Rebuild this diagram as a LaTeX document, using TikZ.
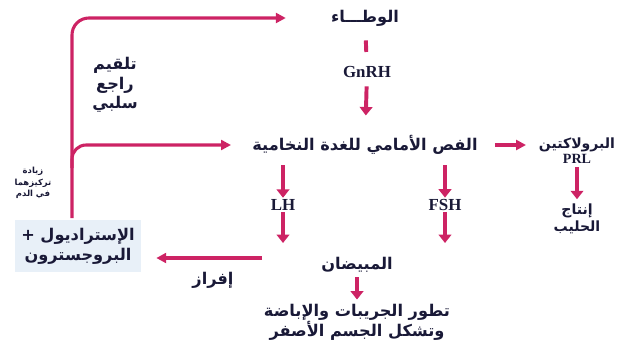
\documentclass[tikz,border=0pt]{standalone}
\usepackage{fontspec}
\usepackage{tikz}
\usetikzlibrary{arrows.meta}
\TeXXeTstate=1
\newfontfamily\arabicfont[Script=Arabic]{DejaVu Sans}
\newfontfamily\latinfont{Liberation Serif}
\definecolor{arrowpink}{RGB}{205,35,100}
\definecolor{textnavy}{RGB}{25,25,55}
\definecolor{boxblue}{RGB}{232,240,248}

\begin{document}
\begin{tikzpicture}[x=0.025cm, y=-0.025cm,
    artxt/.style={text=textnavy, font=\arabicfont\bfseries\fontsize{11.5}{14}\selectfont, align=center, inner sep=1pt},
    sidetxt/.style={artxt, font=\arabicfont\bfseries\fontsize{10}{12.5}\selectfont},
    smalltxt/.style={text=textnavy, font=\arabicfont\bfseries\fontsize{6}{8}\selectfont, align=center, inner sep=1pt},
    hormone/.style={text=textnavy, font=\latinfont\bfseries\fontsize{12}{14}\selectfont, inner sep=1pt},
    fatarrow/.style={draw=arrowpink, line width=2.8pt, -{Triangle[width=9pt, length=6pt]}, arrowpink},
    link/.style={draw=arrowpink, line width=2.2pt, -{Triangle[width=7pt, length=7pt]}, arrowpink}]
        \useasboundingbox (0,0) rectangle (636,360);

        % Hypothalamus and GnRH
        \node[artxt] (hypo) at (365, 18) {\beginR الوطـــاء\endR};
        \node[hormone] (gnrh) at (367, 72) {GnRH};
        \node[artxt] (pit) at (365, 145) {\beginR الفص الأمامي للغدة النخامية\endR};

        % Prolactin branch
        \node[sidetxt] (prl) at (577, 151) {\beginR البرولاكتين\endR\\[-2pt]{\latinfont\bfseries PRL}};
        \node[sidetxt] (milk) at (577, 219) {\beginR إنتاج\endR\\ \beginR الحليب\endR};

        % LH and FSH
        \node[hormone] (lh) at (283, 205) {LH};
        \node[hormone] (fsh) at (445, 205) {FSH};
        \coordinate (lhtop) at (283, 165);
        \coordinate (fshtop) at (445, 165);
        \coordinate (lhbot) at (283, 243);
        \coordinate (fshbot) at (445, 243);

        % Ovaries and effects
        \node[artxt] (ovary) at (357, 265) {\beginR المبيضان\endR};
        \node[artxt] (result) at (357, 322) {\beginR تطور الجريبات والإباضة\endR\\ \beginR وتشكل الجسم الأصفر\endR};

        % Ovarian hormones
        \node[artxt, fill=boxblue, minimum width=89pt, minimum height=37pt] (steroid) at (78, 246) {\beginR الإستراديول +\endR\\ \beginR البروجسترون\endR};
        \node[artxt] (secrete) at (213, 280) {\beginR إفراز\endR};

        % Feedback labels
        \node[artxt] (fblabel) at (115, 85) {\beginR تلقيم\endR\\ \beginR راجع\endR\\ \beginR سلبي\endR};
        \node[smalltxt] (conc) at (33, 183) {\beginR زيادة\endR\\ \beginR تركيزهما\endR\\ \beginR في الدم\endR};

        % Connections
        \coordinate (secstart) at (262, 258);
        \draw[arrowpink, line width=2.8pt, shorten <=9pt, shorten >=9pt] (hypo) -- (gnrh);
        \draw[fatarrow, shorten <=5pt, shorten >=13pt] (gnrh) -- (pit);
        \draw[link, shorten <=11pt, shorten >=8pt] (pit) -- (prl.west |- pit);
        \draw[fatarrow, shorten <=1pt, shorten >=2pt] (prl) -- (milk);
        \draw[fatarrow] (lhtop) -- (lh);
        \draw[fatarrow] (lh) -- (lhbot);
        \draw[fatarrow] (fshtop) -- (fsh);
        \draw[fatarrow] (fsh) -- (fshbot);
        \draw[fatarrow, shorten <=2pt, shorten >=2pt] (ovary) -- (result);
        \draw[link, shorten >=11pt] (secstart) -- (steroid.east |- secstart);

        % Negative feedback
        \coordinate (fbstart) at (72, 218);
        \coordinate (fbjoin) at (72, 168);
        \draw[link, rounded corners=12pt, shorten >=31pt] (fbstart) |- (hypo.west);
        \draw[link, rounded corners=10pt, shorten >=14pt] (fbjoin) |- (pit.west);
\end{tikzpicture}
\end{document}
